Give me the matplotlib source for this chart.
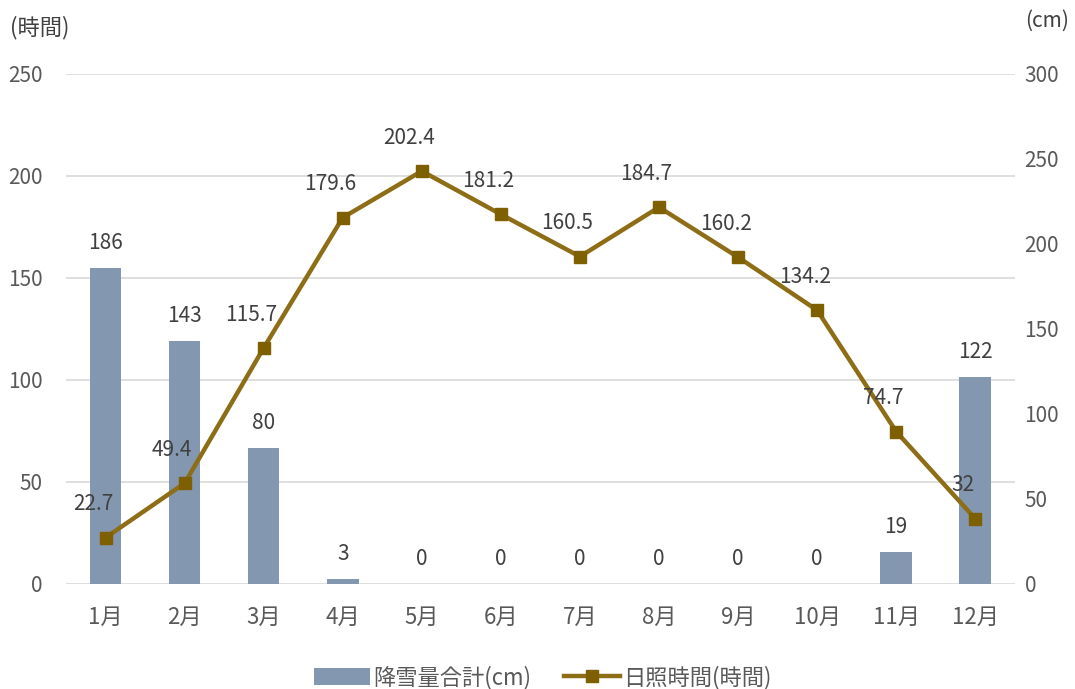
import matplotlib.pyplot as plt
import numpy as np

plt.rcParams['font.family'] = ['Noto Sans CJK JP', 'DejaVu Sans']

months = ['1月', '2月', '3月', '4月', '5月', '6月',
          '7月', '8月', '9月', '10月', '11月', '12月']
snowfall = [186, 143, 80, 3, 0, 0, 0, 0, 0, 0, 19, 122]
sunshine = [22.7, 49.4, 115.7, 179.6, 202.4, 181.2,
            160.5, 184.7, 160.2, 134.2, 74.7, 32]

bar_color = '#8497B0'
line_color = '#8D6E17'
marker_color = '#7F6000'
text_color = '#595959'
label_color = '#404040'
num_fs = 15
jp_fs = 16

fig = plt.figure(figsize=(10.75, 6.89), dpi=100)
ax = fig.add_axes([0.0614, 0.1524, 0.8826, 0.7402])
ax2 = ax.twinx()

x = np.arange(len(months))

ax.set_xlim(-0.5, 11.5)
ax.set_ylim(0, 250)
ax2.set_ylim(0, 300)
ax.set_yticks(range(0, 251, 50))
ax2.set_yticks(range(0, 301, 50))

# gridlines follow the left (hours) axis, drawn behind the bars
for t in ax.get_yticks():
    ax2.axhline(t * 300 / 250, color='#D9D9D9', lw=1.2, zorder=0)

# bars use the right axis (cm)
ax2.bar(x, snowfall, width=0.40, color=bar_color, zorder=2,
        label='降雪量合計(cm)')
for xi, v in zip(x, snowfall):
    ax2.annotate(str(v), (xi, v), xytext=(0, 18), textcoords='offset points',
                 ha='center', va='center', fontsize=num_fs, color=label_color)

# line on the left axis (hours) - drawn on top
ax.set_zorder(ax2.get_zorder() + 1)
ax.patch.set_visible(False)
ax.plot(x, sunshine, color=line_color, lw=3.2, marker='s', markersize=9,
        markerfacecolor=marker_color, markeredgecolor=marker_color,
        label='日照時間(時間)', zorder=3)
for xi, v in zip(x, sunshine):
    ax.annotate('%g' % v, (xi, v), xytext=(-9, 24), textcoords='offset points',
                ha='center', va='center', fontsize=num_fs, color=label_color)

ax.set_xticks(x)
ax.set_xticklabels(months, fontsize=jp_fs)

for a in (ax, ax2):
    for s in a.spines.values():
        s.set_visible(False)
    a.tick_params(length=0, labelsize=num_fs, colors=text_color)
ax.tick_params(axis='x', labelsize=jp_fs, pad=16)
ax.tick_params(axis='y', pad=17)
ax2.tick_params(axis='y', pad=7)

fig.text(0.009, 0.96, '(時間)', fontsize=jp_fs, color=label_color,
         ha='left', va='center')
fig.text(0.994, 0.97, '(cm)', fontsize=num_fs, color=label_color,
         ha='right', va='center')

h1, l1 = ax2.get_legend_handles_labels()
h2, l2 = ax.get_legend_handles_labels()
fig.legend(h1 + h2, l1 + l2, loc='center', bbox_to_anchor=(0.505, 0.017),
           ncol=2, frameon=False, fontsize=jp_fs, labelcolor=text_color,
           handlelength=2.5, handleheight=0.8, columnspacing=1.5,
           handletextpad=0.15)

fig.savefig('out.png', dpi=100)
